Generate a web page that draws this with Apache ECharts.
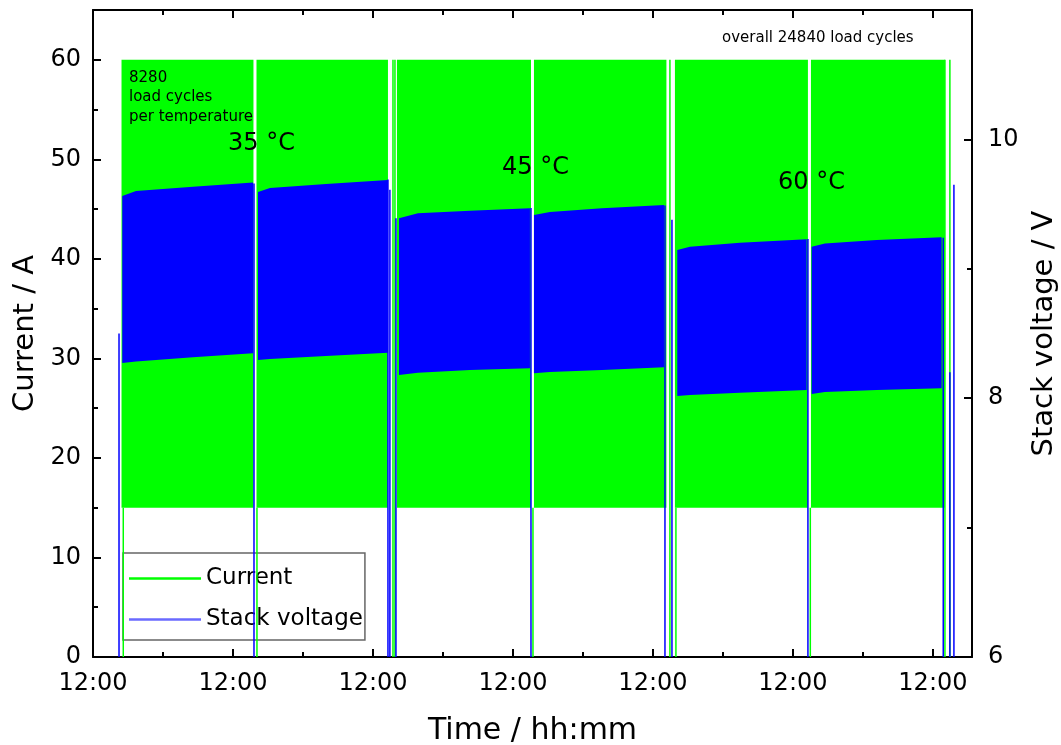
<!DOCTYPE html>
<html>
<head>
<meta charset="utf-8">
<script src="https://cdn.jsdelivr.net/npm/echarts@6/dist/echarts.min.js"></script>
<style>
  html, body { margin: 0; padding: 0; background: #fff; }
  #chart { width: 1061px; height: 745px; }
</style>
</head>
<body>
<div id="chart"></div>
<script>
// time axis in hours, one "12:00" tick every 24 h
const timeMin = 0;
const timeMax = 150.7;
const timeMajorTicks = [0, 24, 48, 72, 96, 120, 144];
const timeMinorTicks = [12, 36, 60, 84, 108, 132];
const timeTickLabel = '12:00';

const currentMajorTicks = [0, 10, 20, 30, 40, 50, 60];
const currentMinorTicks = [5, 15, 25, 35, 45, 55];
const voltageMajorTicks = [6, 8, 10];
const voltageMinorTicks = [7, 9];

// current load cycling 15 A <-> 60 A, one block per day
const currentSegStart = [4.89, 28.03, 52.11, 75.60, 99.77, 123.09];
const currentSegEnd = [27.51, 50.57, 75.09, 98.31, 122.57, 146.06];
const currentLow = 15;
const currentHigh = 60;

// stack voltage envelope per block (time / h, upper / V, lower / V)
const voltTimes = [
  [5.02, 7.37, 17.14, 27.43],
  [28.29, 30.34, 39.94, 50.57],
  [52.46, 55.71, 64.63, 74.91],
  [75.60, 78.34, 87.26, 97.89],
  [100.17, 102.34, 110.91, 122.35],
  [123.21, 125.49, 134.35, 145.49]
];
const voltUpper = [
  [9.563, 9.601, 9.635, 9.667],
  [9.594, 9.624, 9.655, 9.686],
  [9.390, 9.429, 9.449, 9.468],
  [9.416, 9.439, 9.468, 9.493],
  [9.145, 9.171, 9.202, 9.228],
  [9.171, 9.196, 9.223, 9.243]
];
const voltLower = [
  [8.272, 8.284, 8.316, 8.347],
  [8.295, 8.303, 8.326, 8.352],
  [8.179, 8.197, 8.218, 8.231],
  [8.192, 8.202, 8.218, 8.239],
  [8.017, 8.025, 8.043, 8.063],
  [8.032, 8.048, 8.063, 8.077]
];

// interruptions between blocks
const currentDipTimes = [5.19, 28.11, 51.43, 51.77, 75.43, 98.91, 99.94, 122.98, 146.06, 146.91];
const currentDipTops = [15, 15, 60, 60, 15, 60, 15, 15, 60, 60];
const voltageDipTimes = [4.46, 27.60, 50.57, 50.90, 51.94, 75.09, 98.06, 99.26, 122.57, 145.77, 146.91, 147.60];
const voltageDipTops = [8.50, 9.66, 9.69, 9.61, 9.39, 9.47, 9.49, 9.38, 9.23, 9.24, 8.20, 9.65];

const FONT = "'DejaVu Sans', Verdana, sans-serif";
const GREEN = '#00ff00';
const BLUE = '#0000ff';

function dipData(times, tops, bottom) {
  let out = [];
  times.forEach((t, i) => {
    out.push([t, tops[i]]);
    out.push([t, bottom]);
    out.push([t, '-']);
  });
  return out;
}

function xAxisDef(position, ticks, len, major) {
  return {
    type: 'value', position: position, min: timeMin, max: timeMax,
    name: major && position === 'bottom' ? 'Time / hh:mm' : '',
    nameLocation: 'middle', nameGap: 59,
    nameTextStyle: {fontSize: 30, color: '#000', fontFamily: FONT},
    axisLine: {show: major, onZero: false, lineStyle: {color: '#000', width: 2}},
    axisTick: {show: true, inside: true, length: len, customValues: ticks, lineStyle: {color: '#000', width: 2}},
    axisLabel: {
      show: major && position === 'bottom', customValues: ticks, margin: 15,
      formatter: () => timeTickLabel, fontSize: 24, color: '#000', fontFamily: FONT
    },
    splitLine: {show: false}
  };
}

function yAxisDef(position, min, max, ticks, len, major, name, gap) {
  return {
    type: 'value', position: position, min: min, max: max,
    name: major ? name : '', nameLocation: 'middle', nameGap: gap,
    nameTextStyle: {fontSize: 29, color: '#000', fontFamily: FONT},
    axisLine: {show: major, onZero: false, lineStyle: {color: '#000', width: 2}},
    axisTick: {show: true, inside: true, length: len, customValues: ticks, lineStyle: {color: '#000', width: 2}},
    axisLabel: {show: major, customValues: ticks, margin: position === 'right' ? 16 : 12, fontSize: 24, color: '#000', fontFamily: FONT},
    splitLine: {show: false}
  };
}

let chart = echarts.init(document.getElementById('chart'), null, {renderer: 'canvas'});

let option = {
  animation: false,
  backgroundColor: '#fff',
  grid: {left: 93, right: 89, top: 10, bottom: 88, containLabel: false, outerBoundsMode: 'none'},
  legend: {
    data: [
      {name: 'Current', icon: 'rect', itemStyle: {color: GREEN}},
      {name: 'Stack voltage', icon: 'rect', itemStyle: {color: '#6a6aff'}}
    ],
    orient: 'vertical', left: 123, top: 553,
    backgroundColor: '#fff', borderColor: '#666', borderWidth: 1.5, borderRadius: 0,
    padding: [14, 2, 9, 6], itemGap: 18, itemWidth: 72, itemHeight: 2.5,
    selectedMode: false,
    textStyle: {fontSize: 23, color: '#000', fontFamily: FONT}
  },
  xAxis: [
    xAxisDef('bottom', timeMajorTicks, 8, true),
    xAxisDef('top', timeMajorTicks, 8, true),
    xAxisDef('bottom', timeMinorTicks, 5, false),
    xAxisDef('top', timeMinorTicks, 5, false)
  ],
  yAxis: [
    yAxisDef('left', 0, 65, currentMajorTicks, 8, true, 'Current / A', 43),
    yAxisDef('right', 6, 11, voltageMajorTicks, 8, true, 'Stack voltage / V', 58),
    yAxisDef('left', 0, 65, currentMinorTicks, 5, false),
    yAxisDef('right', 6, 11, voltageMinorTicks, 5, false)
  ],
  graphic: [
    {type: 'text', left: 129, top: 68, z: 10,
     style: {text: '8280\nload cycles\nper temperature', font: '15px ' + FONT, lineHeight: 19.5, fill: '#000'}},
    {type: 'text', left: 228, top: 132, z: 10, style: {text: '35 °C', font: '24px ' + FONT, fill: '#000'}},
    {type: 'text', left: 502, top: 156, z: 10, style: {text: '45 °C', font: '24px ' + FONT, fill: '#000'}},
    {type: 'text', left: 778, top: 171, z: 10, style: {text: '60 °C', font: '24px ' + FONT, fill: '#000'}},
    {type: 'text', left: 722, top: 31, z: 10, style: {text: 'overall 24840 load cycles', font: '15px ' + FONT, fill: '#000'}}
  ],
  series: [
    {
      name: 'Current', type: 'line', xAxisIndex: 0, yAxisIndex: 0, z: 4,
      symbol: 'none', color: GREEN, lineStyle: {color: GREEN, width: 1.5},
      data: dipData(currentDipTimes, currentDipTops, 0)
    },
    {
      name: 'Stack voltage', type: 'line', xAxisIndex: 0, yAxisIndex: 1, z: 4,
      symbol: 'none', color: BLUE, lineStyle: {color: BLUE, width: 1.5},
      data: dipData(voltageDipTimes, voltageDipTops, 6)
    },
    {
      name: 'currentBand', type: 'custom', xAxisIndex: 0, yAxisIndex: 0, z: 2,
      encode: {x: [0, 1], y: [2, 3]},
      data: currentSegStart.map((s, i) => [s, currentSegEnd[i], currentLow, currentHigh]),
      renderItem: function(params, api) {
        let p0 = api.coord([api.value(0), api.value(3)]);
        let p1 = api.coord([api.value(1), api.value(2)]);
        return {
          type: 'rect',
          shape: {x: p0[0], y: p0[1], width: p1[0] - p0[0], height: p1[1] - p0[1]},
          style: {fill: GREEN}
        };
      }
    },
    {
      name: 'voltageBand', type: 'custom', xAxisIndex: 0, yAxisIndex: 1, z: 3,
      encode: {x: 0, y: 1},
      data: voltTimes.map((t, i) => [t[0], voltLower[i][0], i]),
      renderItem: function(params, api) {
        let i = api.value(2);
        let pts = [];
        voltTimes[i].forEach((t, k) => pts.push(api.coord([t, voltUpper[i][k]])));
        for (let k = voltTimes[i].length - 1; k >= 0; k--) {
          pts.push(api.coord([voltTimes[i][k], voltLower[i][k]]));
        }
        return {type: 'polygon', shape: {points: pts}, style: {fill: BLUE}};
      }
    }
  ]
};

chart.setOption(option);
</script>
</body>
</html>
